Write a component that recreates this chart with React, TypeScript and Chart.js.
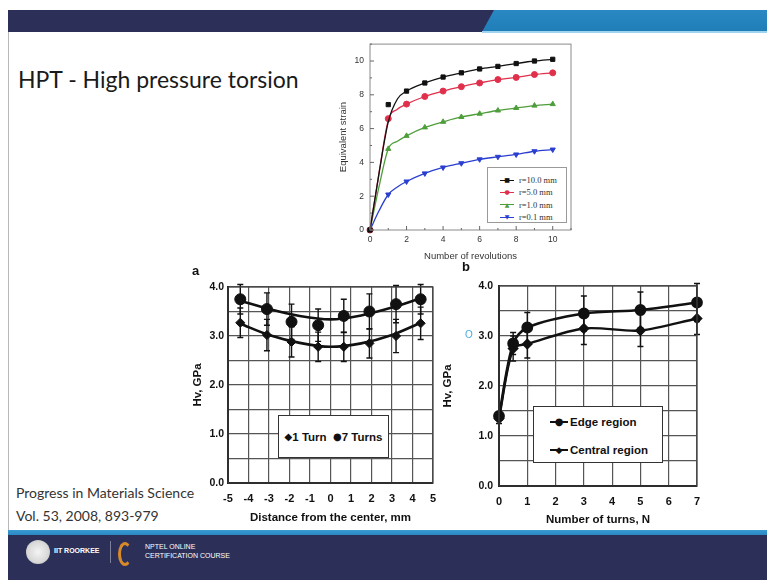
import React, { useEffect, useRef } from "react";
import { Chart, registerables } from "chart.js";

Chart.register(...registerables);
Chart.defaults.font.family = '"Liberation Sans", Arial, sans-serif';

// ---------- Top chart: equivalent strain vs number of revolutions ----------
const revolutions = [0, 1, 2, 3, 4, 5, 6, 7, 8, 9, 10];
const strainR10 = [0, 7.42, 8.22, 8.7, 9.05, 9.3, 9.53, 9.68, 9.85, 10.0, 10.1];
const strainR5 = [0, 6.59, 7.45, 7.9, 8.22, 8.48, 8.7, 8.9, 9.03, 9.2, 9.3];
const strainR1 = [0, 4.8, 5.57, 6.07, 6.4, 6.69, 6.88, 7.07, 7.22, 7.36, 7.45];
const strainR01 = [0, 2.1, 2.87, 3.35, 3.7, 3.95, 4.18, 4.33, 4.47, 4.66, 4.76];
const fitRevolutions = [0, 0.5, 1, 1.5, 2, 3, 4, 5, 6, 7, 8, 9, 10];
const fitR10 = [0, 3.4, 6.4, 7.75, 8.22, 8.7, 9.05, 9.3, 9.53, 9.68, 9.85, 10.0, 10.1];
const fitR5 = [0, 3.4, 6.5, 7.15, 7.45, 7.9, 8.22, 8.48, 8.7, 8.9, 9.03, 9.2, 9.3];
const fitR1 = [0, 2.6, 4.8, 5.25, 5.57, 6.07, 6.4, 6.69, 6.88, 7.07, 7.22, 7.36, 7.45];
const fitR01 = [0, 1.15, 2.1, 2.55, 2.87, 3.35, 3.7, 3.95, 4.18, 4.33, 4.47, 4.66, 4.76];
const topSeriesLabels = ["r=10.0 mm", "r=5.0 mm", "r=1.0 mm", "r=0.1 mm"];
const topXTicks = [0, 1, 2, 3, 4, 5, 6, 7, 8, 9, 10, 11];
const topXTickLabels = ["0", "", "2", "", "4", "", "6", "", "8", "", "10", ""];
const topYTicks = [0, 1, 2, 3, 4, 5, 6, 7, 8, 9, 10, 11];
const topYTickLabels = ["0", "", "2", "", "4", "", "6", "", "8", "", "10", ""];

// ---------- Chart a: Hv vs distance from the center ----------
const distanceMm = [-4.4, -3.1, -1.9, -0.6, 0.65, 1.9, 3.2, 4.4];
const hv1Turn = [3.27, 3.02, 2.88, 2.78, 2.78, 2.85, 3.0, 3.26];
const hv7Turns = [3.75, 3.55, 3.29, 3.22, 3.41, 3.5, 3.65, 3.75];
const err1Turn = [0.3, 0.32, 0.31, 0.3, 0.3, 0.3, 0.34, 0.33];
const err7Turns = [0.3, 0.33, 0.36, 0.33, 0.34, 0.36, 0.38, 0.3];
const fitDistance = [-4.4, -3, -1.5, 0, 1.5, 3, 4.4];
const fit1Turn = [3.25, 3.02, 2.86, 2.78, 2.85, 3.02, 3.27];
const fit7Turns = [3.72, 3.55, 3.41, 3.34, 3.42, 3.58, 3.77];
const aXTicks = [-5, -4, -3, -2, -1, 0, 1, 2, 3, 4, 5];
const aXTickLabels = ["-5", "-4", "-3", "-2", "-1", "0", "1", "2", "3", "4", "5"];
const hvGrid = [0, 0.5, 1, 1.5, 2, 2.5, 3, 3.5, 4];
const hvTickLabels = ["0.0", "", "1.0", "", "2.0", "", "3.0", "", "4.0"];

// ---------- Chart b: Hv vs number of turns ----------
const turnsN = [0, 0.5, 1, 3, 5, 7];
const hvEdge = [1.4, 2.85, 3.17, 3.45, 3.52, 3.67];
const hvCentral = [1.35, 2.75, 2.84, 3.15, 3.11, 3.35];
const errEdge = [0.08, 0.22, 0.3, 0.35, 0.36, 0.38];
const errCentral = [0.1, 0.25, 0.28, 0.32, 0.32, 0.32];
const bXTicks = [0, 1, 2, 3, 4, 5, 6, 7];
const bXTickLabels = ["0", "1", "2", "3", "4", "5", "6", "7"];

const C10 = "#111111";
const C5 = "#e0304c";
const C1 = "#4f9e3c";
const C01 = "#2a3fd0";

const pts = (xs: number[], ys: number[]) => xs.map((x, i) => ({ x, y: ys[i] }));

const framePlugin = {
  id: "frame",
  afterDraw(chart: any, _a: any, opts: any) {
    if (!opts || !opts.color) return;
    const { ctx, chartArea: a } = chart;
    ctx.save();
    ctx.strokeStyle = opts.color;
    ctx.lineWidth = opts.width || 1;
    ctx.strokeRect(a.left, a.top, a.right - a.left, a.bottom - a.top);
    ctx.restore();
  },
};

const innerTicksPlugin = {
  id: "innerTicks",
  afterDraw(chart: any, _a: any, opts: any) {
    if (!opts || !opts.enabled) return;
    const { ctx, chartArea: a, scales } = chart;
    const x = scales.x;
    const y = scales.y;
    ctx.save();
    ctx.strokeStyle = opts.color;
    ctx.lineWidth = 1;
    x.ticks.forEach((t: any) => {
      const px = x.getPixelForValue(t.value);
      const len = t.value % 2 === 0 ? 4 : 2;
      ctx.beginPath();
      ctx.moveTo(px, a.bottom);
      ctx.lineTo(px, a.bottom - len);
      ctx.stroke();
    });
    y.ticks.forEach((t: any) => {
      const py = y.getPixelForValue(t.value);
      const len = t.value % 2 === 0 ? 4 : 2;
      ctx.beginPath();
      ctx.moveTo(a.left, py);
      ctx.lineTo(a.left + len, py);
      ctx.stroke();
    });
    ctx.restore();
  },
};

const errorBarPlugin = {
  id: "errorBars",
  afterDatasetsDraw(chart: any) {
    const { ctx } = chart;
    const ys = chart.scales.y;
    chart.data.datasets.forEach((ds: any, i: number) => {
      const errs = ds.errors;
      if (!errs) return;
      const meta = chart.getDatasetMeta(i);
      ctx.save();
      ctx.strokeStyle = "#111";
      ctx.lineWidth = 1.4;
      meta.data.forEach((el: any, j: number) => {
        const v = ds.data[j].y;
        const x = el.x;
        const top = ys.getPixelForValue(v + errs[j]);
        const bot = ys.getPixelForValue(v - errs[j]);
        ctx.beginPath();
        ctx.moveTo(x, top);
        ctx.lineTo(x, bot);
        ctx.moveTo(x - 3, top);
        ctx.lineTo(x + 3, top);
        ctx.moveTo(x - 3, bot);
        ctx.lineTo(x + 3, bot);
        ctx.stroke();
      });
      ctx.restore();
    });
  },
};

const setTicks = (values: number[]) => (s: any) => {
  s.ticks = values.map((v) => ({ value: v }));
};
const labelFrom = (values: number[], labels: string[]) => (v: any) => {
  const i = values.findIndex((t) => Math.abs(t - Number(v)) < 1e-9);
  return i >= 0 ? labels[i] : "";
};

function topConfig(): any {
  const fit = (d: number[], c: string) => ({
    data: pts(fitRevolutions, d),
    borderColor: c,
    borderWidth: 1.3,
    pointRadius: 0,
    cubicInterpolationMode: "monotone",
    fill: false,
  });
  const mk = (d: number[], c: string, style: string, rot = 0) => ({
    data: pts(revolutions, d),
    showLine: false,
    pointStyle: style,
    pointRotation: rot,
    pointRadius: 3,
    backgroundColor: c,
    borderColor: c,
    borderWidth: 1,
    clip: false,
  });
  return {
    type: "line",
    data: {
      datasets: [
        fit(fitR10, C10),
        fit(fitR5, C5),
        fit(fitR1, C1),
        fit(fitR01, C01),
        mk(strainR10, C10, "rect"),
        mk(strainR5, C5, "circle"),
        mk(strainR1, C1, "triangle"),
        mk(strainR01, C01, "triangle", 180),
      ],
    },
    options: {
      animation: false,
      responsive: false,
      devicePixelRatio: 1,
      layout: { padding: { top: 5, right: 9, left: 0, bottom: 0 }, autoPadding: false },
      plugins: {
        legend: { display: false },
        tooltip: { enabled: false },
        frame: { color: "#8a8a8a", width: 1 },
        innerTicks: { enabled: true, color: "#666" },
      },
      scales: {
        x: {
          type: "linear",
          min: 0,
          max: 11,
          afterBuildTicks: setTicks(topXTicks),
          afterFit: (s: any) => { s.height = 35; },
          ticks: { callback: labelFrom(topXTicks, topXTickLabels), font: { size: 8.5 }, color: "#333", padding: 5, maxRotation: 0, autoSkip: false },
          grid: { drawOnChartArea: false, drawTicks: false },
          border: { display: false },
          title: { display: true, text: "Number of revolutions", font: { size: 9.5 }, color: "#333", padding: { top: 2, bottom: 3 } },
        },
        y: {
          type: "linear",
          min: 0,
          max: 11,
          afterBuildTicks: setTicks(topYTicks),
          afterFit: (s: any) => { s.width = 35; },
          ticks: { callback: labelFrom(topYTicks, topYTickLabels), font: { size: 8.5 }, color: "#333", padding: 6, autoSkip: false },
          grid: { drawOnChartArea: false, drawTicks: false },
          border: { display: false },
          title: { display: true, text: "Equivalent strain", font: { size: 9.5 }, color: "#333", padding: { top: 3, bottom: 2 } },
        },
      },
    },
    plugins: [framePlugin, innerTicksPlugin],
  };
}

function hvScales(xTicks: number[], xLabels: string[], xMin: number, xMax: number, xTitle: string, yWidth: number, xHeight: number, yPad: number) {
  return {
    x: {
      type: "linear",
      min: xMin,
      max: xMax,
      afterBuildTicks: setTicks(xTicks),
      afterFit: (s: any) => { s.height = xHeight; },
      ticks: { callback: labelFrom(xTicks, xLabels), font: { size: 11, weight: "bold" }, color: "#111", padding: 9, maxRotation: 0, autoSkip: false },
      grid: { color: "#555", lineWidth: 1.2, drawTicks: false },
      border: { display: true, color: "#111", width: 2 },
      title: { display: true, text: xTitle, font: { size: 11.5, weight: "bold" }, color: "#111", padding: { top: 2, bottom: 3 } },
    },
    y: {
      type: "linear",
      min: 0,
      max: 4,
      afterBuildTicks: setTicks(hvGrid),
      afterFit: (s: any) => { s.width = yWidth; },
      ticks: { callback: labelFrom(hvGrid, hvTickLabels), font: { size: 10.5, weight: "bold" }, color: "#111", padding: yPad, autoSkip: false },
      grid: { color: "#555", lineWidth: 1.2, drawTicks: false },
      border: { display: true, color: "#111", width: 2 },
      title: { display: true, text: "Hv, GPa", font: { size: 11.5, weight: "bold" }, color: "#111", padding: { top: 1, bottom: 2 } },
    },
  };
}

function aConfig(): any {
  const fit = (d: number[]) => ({
    data: pts(fitDistance, d),
    borderColor: "#111",
    borderWidth: 2.6,
    pointRadius: 0,
    cubicInterpolationMode: "monotone",
    fill: false,
  });
  return {
    type: "line",
    data: {
      datasets: [
        fit(fit7Turns),
        fit(fit1Turn),
        { data: pts(distanceMm, hv7Turns), errors: err7Turns, showLine: false, pointStyle: "circle", pointRadius: 5.5, backgroundColor: "#111", borderColor: "#111", clip: false },
        { data: pts(distanceMm, hv1Turn), errors: err1Turn, showLine: false, pointStyle: "rectRot", pointRadius: 4.6, backgroundColor: "#111", borderColor: "#111", clip: false },
      ],
    },
    options: {
      animation: false,
      responsive: false,
      devicePixelRatio: 1,
      layout: { padding: { top: 22, right: 8, left: 0, bottom: 0 }, autoPadding: false },
      plugins: { legend: { display: false }, tooltip: { enabled: false }, frame: { color: "#444", width: 1.2 } },
      scales: hvScales(aXTicks, aXTickLabels, -5, 5, "Distance from the center, mm", 38, 45, 4),
    },
    plugins: [framePlugin, errorBarPlugin],
  };
}

function bConfig(): any {
  return {
    type: "line",
    data: {
      datasets: [
        { data: pts(turnsN, hvEdge), errors: errEdge, borderColor: "#111", borderWidth: 2.6, tension: 0.3, pointStyle: "circle", pointRadius: 4.6, backgroundColor: "#111", clip: false },
        { data: pts(turnsN, hvCentral), errors: errCentral, borderColor: "#111", borderWidth: 2.4, tension: 0.3, pointStyle: "rectRot", pointRadius: 4, backgroundColor: "#111", clip: false },
      ],
    },
    options: {
      animation: false,
      responsive: false,
      devicePixelRatio: 1,
      layout: { padding: { top: 21, right: 15, left: 0, bottom: 0 }, autoPadding: false },
      plugins: { legend: { display: false }, tooltip: { enabled: false }, frame: { color: "#444", width: 1.2 } },
      scales: hvScales(bXTicks, bXTickLabels, 0, 7, "Number of turns, N", 59, 44, 6),
    },
    plugins: [framePlugin, errorBarPlugin],
  };
}

const abs = (left: number, top: number, extra: any = {}) => ({ position: "absolute" as const, left, top, ...extra });

function Sample({ color, glyph, size, width = 14, lineW = 1 }: { color: string; glyph: string; size: number; width?: number; lineW?: number }) {
  return (
    <span style={{ position: "relative", display: "inline-block", width, height: 10 }}>
      <span style={{ position: "absolute", left: 0, top: 5 - lineW / 2, width, height: lineW, background: color }} />
      <span style={{ position: "absolute", left: 0, width, top: 0, height: 10, lineHeight: "10px", textAlign: "center", color, fontSize: size, fontFamily: '"DejaVu Sans"' }}>{glyph}</span>
    </span>
  );
}

export default function App() {
  const topRef = useRef<HTMLCanvasElement>(null);
  const aRef = useRef<HTMLCanvasElement>(null);
  const bRef = useRef<HTMLCanvasElement>(null);

  useEffect(() => {
    const charts = [
      new Chart(topRef.current as HTMLCanvasElement, topConfig()),
      new Chart(aRef.current as HTMLCanvasElement, aConfig()),
      new Chart(bRef.current as HTMLCanvasElement, bConfig()),
    ];
    return () => charts.forEach((c) => c.destroy());
  }, []);

  const navy = "#2c3058";
  const blue = "#2a88c2";
  const topColors = [C10, C5, C1, C01];
  const topGlyphs = ["■", "●", "▲", "▼"];

  return (
    <div style={{ position: "fixed", left: 0, top: 0, width: 767, height: 580, background: "#fff", overflow: "hidden" }}>
      {/* header */}
      <div style={abs(8, 10, { width: 759, height: 22, background: navy })} />
      <div style={abs(8, 10, { width: 759, height: 22, background: `linear-gradient(${blue}, #1f7db8)`, clipPath: "polygon(486px 0, 759px 0, 759px 22px, 474px 22px)" })} />
      <div style={abs(482, 31, { width: 285, height: 1.5, background: "#9fd4ef" })} />
      {/* left border */}
      <div style={abs(8, 32, { width: 1, height: 498, background: "#b8b8b8" })} />

      {/* title */}
      <div style={abs(18, 64, { fontFamily: "Lato, sans-serif", fontSize: 23, color: "#1a1a1a", whiteSpace: "nowrap", lineHeight: "30px" })}>HPT - High pressure torsion</div>

      {/* citation */}
      <div style={abs(16, 481, { fontFamily: "Lato, sans-serif", fontSize: 14, color: "#333", whiteSpace: "nowrap", lineHeight: "23px" })}>
        <div>Progress in Materials Science</div>
        <div>Vol. 53, 2008, 893-979</div>
      </div>

      {/* charts */}
      <canvas ref={topRef} width={245} height={232} style={abs(335, 33, { width: 245, height: 232 })} />
      <canvas ref={aRef} width={255} height={263} style={abs(190, 265, { width: 255, height: 263 })} />
      <canvas ref={bRef} width={272} height={265} style={abs(440, 265, { width: 272, height: 265 })} />

      {/* top legend */}
      <div style={abs(487, 167, { width: 80, height: 56, boxSizing: "border-box", border: "1px solid #9a9a9a", background: "#fff", paddingTop: 6 })}>
        {topSeriesLabels.map((l, i) => (
          <div key={l} style={{ display: "flex", alignItems: "center", height: 12.3, paddingLeft: 12 }}>
            <Sample color={topColors[i]} glyph={topGlyphs[i]} size={6} />
            <span style={{ fontFamily: '"Liberation Serif", serif', fontSize: 8.5, color: "#333", marginLeft: 5, whiteSpace: "nowrap" }}>{l}</span>
          </div>
        ))}
      </div>

      {/* chart a legend */}
      <div style={abs(278, 415, { width: 111, height: 43, boxSizing: "border-box", border: "1px solid #333", background: "#fff", display: "flex", alignItems: "center", justifyContent: "center", fontFamily: '"Liberation Sans", Arial', fontWeight: "bold", fontSize: 11.5, color: "#111", whiteSpace: "nowrap" })}>
        <span style={{ fontFamily: '"DejaVu Sans"', fontSize: 10 }}>◆</span>
        <span>1 Turn&nbsp;&nbsp;</span>
        <span style={{ fontFamily: '"DejaVu Sans"', fontSize: 10 }}>●</span>
        <span>7 Turns</span>
      </div>

      {/* chart b legend */}
      <div style={abs(533, 406, { width: 130, height: 57, boxSizing: "border-box", border: "1px solid #333", background: "#fff", fontFamily: '"Liberation Sans", Arial', fontWeight: "bold", fontSize: 11.5, color: "#111", paddingLeft: 16, paddingTop: 8 })}>
        <div style={{ display: "flex", alignItems: "center", height: 14, marginBottom: 14 }}>
          <Sample color="#111" glyph="●" size={10} width={18} lineW={2.5} />
          <span style={{ marginLeft: 2 }}>Edge region</span>
        </div>
        <div style={{ display: "flex", alignItems: "center", height: 14 }}>
          <Sample color="#111" glyph="◆" size={9} width={18} lineW={2.5} />
          <span style={{ marginLeft: 2 }}>Central region</span>
        </div>
      </div>

      {/* panel letters */}
      <div style={abs(192, 263, { fontFamily: '"Liberation Sans", Arial', fontWeight: "bold", fontSize: 13, color: "#111" })}>a</div>
      <div style={abs(462, 259, { fontFamily: '"Liberation Sans", Arial', fontWeight: "bold", fontSize: 13, color: "#111" })}>b</div>
      <div style={abs(465, 329, { fontFamily: '"Liberation Sans", Arial', fontSize: 10, color: "#4aa8e0" })}>O</div>

      {/* footer */}
      <div style={abs(8, 530, { width: 759, height: 50, background: navy })} />
      <div style={abs(8, 530, { width: 759, height: 5, background: `linear-gradient(#3a9ad2, ${blue})` })} />
      <div style={abs(26, 540, { width: 24, height: 24, borderRadius: 12, background: "radial-gradient(circle, #f4f4f4 0%, #d8d8d8 60%, #b0b0b0 100%)" })} />
      <div style={abs(54, 547, { fontFamily: '"Liberation Sans", Arial', fontSize: 7, fontWeight: "bold", color: "#fff", whiteSpace: "nowrap" })}>IIT ROORKEE</div>
      <div style={abs(110, 541, { width: 1, height: 22, background: "#7a7f9a" })} />
      <div style={abs(118, 542, { width: 14, height: 24, borderRadius: "50%", border: "3px solid #d88a2a", borderRightColor: "transparent", boxSizing: "border-box" })} />
      <div style={abs(145, 542, { fontFamily: '"Liberation Sans", Arial', fontSize: 7, color: "#fff", whiteSpace: "nowrap", lineHeight: "9px" })}>
        <div>NPTEL ONLINE</div>
        <div>CERTIFICATION COURSE</div>
      </div>
    </div>
  );
}
